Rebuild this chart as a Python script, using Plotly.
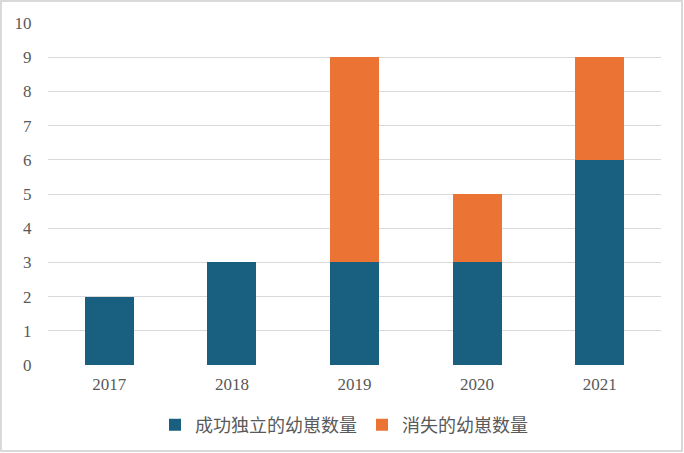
import plotly.graph_objects as go

years = ["2017", "2018", "2019", "2020", "2021"]
independent = [2, 3, 3, 3, 6]
vanished = [0, 0, 6, 2, 3]
y_ticks = list(range(0, 11))

W, H = 684, 453
L, R, T, B = 48, 23, 23, 88
pw, ph = W - L - R, H - T - B

fig = go.Figure()
fig.add_trace(go.Bar(x=years, y=independent, name="成功独立的幼崽数量",
                     marker=dict(color="#185f80", line=dict(width=0))))
fig.add_trace(go.Bar(x=years, y=vanished, name="消失的幼崽数量",
                     marker=dict(color="#eb7434", line=dict(width=0))))

def px2x(p):
    return (p - L) / pw

def py2y(p):
    return (H - B - p) / ph

fig.update_layout(
    width=W, height=H,
    barmode="stack", bargap=0.6,
    margin=dict(l=L, r=R, t=T, b=B, autoexpand=False),
    plot_bgcolor="white", paper_bgcolor="white",
    font=dict(family="Liberation Serif", color="#595959", size=16),
    xaxis=dict(showgrid=False, showline=False, zeroline=False, automargin=False,
               ticks="outside", ticklen=4, tickcolor="rgba(0,0,0,0)",
               tickfont=dict(family="Liberation Serif", size=17, color="#595959")),
    yaxis=dict(range=[0, 10], tickvals=y_ticks, showgrid=True, gridcolor="#d9d9d9",
               gridwidth=1, zeroline=False, showline=False, automargin=False,
               ticks="outside", ticklen=12, tickcolor="rgba(0,0,0,0)",
               tickfont=dict(family="Liberation Serif", size=17, color="#595959")),
    legend=dict(orientation="h", x=px2x(344), xanchor="center", y=py2y(425), yanchor="middle",
                traceorder="normal",
                font=dict(family="Noto Sans CJK SC", size=18, color="#595959"),
                itemwidth=30, tracegroupgap=0),
    shapes=[dict(type="rect", xref="paper", yref="paper",
                 x0=px2x(1), x1=px2x(W - 2), y0=py2y(H - 2), y1=py2y(1),
                 line=dict(color="#d9d9d9", width=2), fillcolor="rgba(0,0,0,0)", layer="below")],
)

fig.write_html("out.html", config={"displayModeBar": False},
               post_script="document.body.style.margin='0';document.body.style.overflow='hidden';")
